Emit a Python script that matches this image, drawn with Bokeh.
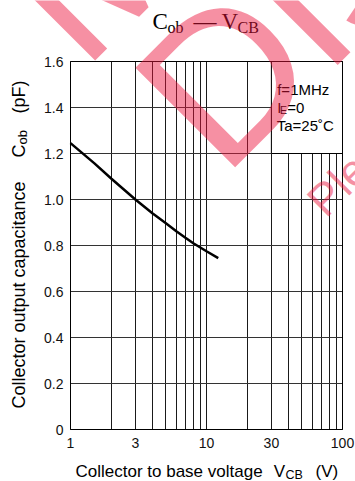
import math
from bokeh.plotting import figure
from bokeh.models import Range1d, FixedTicker, Label
from bokeh.embed import file_html
from bokeh.resources import INLINE

# ---- data ----
vcb = [1.0, 1.5, 2.0, 3.0, 4.0, 5.0, 6.0, 7.0, 8.0, 10.0, 12.2]
cob = [1.245, 1.157, 1.09, 1.0, 0.94, 0.898, 0.862, 0.834, 0.81, 0.775, 0.745]

x_ticks = [1, 3, 10, 30, 100]
x_tick_labels = ["1", "3", "10", "30", "100"]
x_grid = [1, 2, 3, 4, 5, 6, 7, 8, 9, 10, 20, 30, 40, 50, 60, 70, 80, 90, 100]
y_ticks = [0, 0.2, 0.4, 0.6, 0.8, 1.0, 1.2, 1.4, 1.6]
y_tick_labels = ["0", "0.2", "0.4", "0.6", "0.8", "1.0", "1.2", "1.4", "1.6"]
x_lim = [1, 100]
y_lim = [0, 1.6]

cond_box_x = [30, 100]
cond_box_y = [1.2, 1.6]
conditions = ["f=1MHz", "I", "E", "=0", "Ta=25˚C"]

# ---- layout (pixels) ----
W, H = 355, 481
BOX_L, BOX_R, BOX_T, BOX_B = 70, 342, 61, 429
dec_px = (BOX_R - BOX_L) / (math.log10(x_lim[1]) - math.log10(x_lim[0]))
unit_px = (BOX_B - BOX_T) / (y_lim[1] - y_lim[0])
x_start = 10 ** (math.log10(x_lim[0]) - BOX_L / dec_px)
x_end = 10 ** (math.log10(x_lim[1]) + (W - BOX_R) / dec_px)
y_start = y_lim[0] - (H - BOX_B) / unit_px
y_end = y_lim[1] + BOX_T / unit_px

p = figure(width=W, height=H, x_axis_type="log",
           x_range=Range1d(x_start, x_end), y_range=Range1d(y_start, y_end),
           output_backend="svg", toolbar_location=None, title=None,
           min_border=0, min_border_left=0, min_border_right=0,
           min_border_top=0, min_border_bottom=0)
p.background_fill_color = "white"
p.border_fill_color = "white"
p.outline_line_color = None

SANS = "Liberation Sans"
SERIF = "Liberation Serif"

for ax in (p.xaxis[0], p.yaxis[0]):
    ax.axis_line_color = None
    ax.major_tick_line_color = None
    ax.minor_tick_line_color = None
    ax.major_tick_out = 0
    ax.major_tick_in = 0
    ax.major_label_text_font = SANS
    ax.major_label_text_font_size = "14px"
    ax.major_label_text_color = "#111111"

p.xaxis.fixed_location = y_lim[0]
p.yaxis.fixed_location = x_lim[0]
p.xaxis.ticker = FixedTicker(ticks=x_ticks)
p.xaxis.major_label_overrides = dict(zip(x_ticks, x_tick_labels))
p.xaxis.major_label_standoff = 8
p.yaxis.ticker = FixedTicker(ticks=y_ticks)
p.yaxis.major_label_overrides = dict(zip(y_ticks, y_tick_labels))
p.yaxis.major_label_standoff = 7

grid_ok = True
try:
    p.xgrid.ticker = FixedTicker(ticks=x_grid)
    p.ygrid.ticker = FixedTicker(ticks=y_ticks)
    p.xgrid.bounds = tuple(x_lim)
    p.xgrid.cross_bounds = tuple(y_lim)
    p.ygrid.bounds = tuple(y_lim)
    p.ygrid.cross_bounds = tuple(x_lim)
    p.xgrid.grid_line_color = "#1a1a1a"
    p.ygrid.grid_line_color = "#333333"
    p.xgrid.grid_line_width = 1
    p.ygrid.grid_line_width = 1.2
except Exception:
    grid_ok = False

if not grid_ok:
    p.xgrid.visible = False
    p.ygrid.visible = False
    p.segment(x0=x_grid, x1=x_grid, y0=[y_lim[0]] * len(x_grid), y1=[y_lim[1]] * len(x_grid),
              line_color="#1a1a1a", line_width=1)
    p.segment(x0=[x_lim[0]] * len(y_ticks), x1=[x_lim[1]] * len(y_ticks), y0=y_ticks, y1=y_ticks,
              line_color="#333333", line_width=1.2)

# conditions box (covers grid)
p.quad(left=[cond_box_x[0]], right=[cond_box_x[1]], bottom=[cond_box_y[0]], top=[cond_box_y[1]],
       fill_color="white", line_color="black", line_width=1)
# plot border
p.quad(left=[x_lim[0]], right=[x_lim[1]], bottom=[y_lim[0]], top=[y_lim[1]],
       fill_color=None, line_color="black", line_width=1)

# curve
p.line(vcb, cob, line_color="black", line_width=2.5)

K = 0.36  # baseline correction (fraction of font size)


def lab(text, X, Y, size, font=SANS, angle=0, color="black", alpha=1.0, level="annotation"):
    a = math.radians(angle)
    Xc = X - K * size * math.sin(a)
    Yc = Y - K * size * math.cos(a)
    p.add_layout(Label(x=Xc, y=H - Yc, x_units="screen", y_units="screen", text=text,
                       text_font=font, text_font_size=f"{size}px", text_color=color,
                       text_alpha=alpha, angle=angle, angle_units="deg",
                       text_align="left", text_baseline="alphabetic", level=level))


# title  C_ob — V_CB  (page coords of baseline start)
lab("C", 152, 29.5, 23, SERIF)
lab("ob", 167, 33, 16, SERIF)
lab("—", 193, 29.5, 23, SERIF)
lab("V", 221, 29.5, 23, SERIF)
lab("CB", 237, 33, 16, SERIF)

# conditions text
lab(conditions[0], 276.7, 94.5, 15)
lab(conditions[1], 276.7, 112.5, 15)
lab(conditions[2], 279.5, 113.5, 10.5)
lab(conditions[3], 286.7, 112.5, 15)
lab(conditions[4], 276.2, 130.7, 15)

# x axis label
lab("Collector to base voltage", 75, 477, 17)
lab("V", 273.3, 477, 17)
lab("CB", 285, 478.5, 12.5)
lab("(V)", 315, 477, 17)

# y axis label (rotated)
lab("Collector output capacitance", 25, 408, 18, angle=90)
lab("C", 25, 157, 18, angle=90)
lab("ob", 27, 144, 13, angle=90)
lab("(pF)", 25, 113, 18, angle=90)

# watermark
WM = "#eb143c"
lab("Maintenance/", 84.3, 73.7, 205, angle=45, color=WM, alpha=0.47, level="overlay")
lab("Discontinued", 224.5, 180.5, 205, angle=45, color=WM, alpha=0.47, level="overlay")
lab("Please visit following URL about latest information.", 326, 219, 45, angle=45,
    color=WM, alpha=0.47, level="overlay")

open("out.html", "w").write(file_html(p, INLINE))
